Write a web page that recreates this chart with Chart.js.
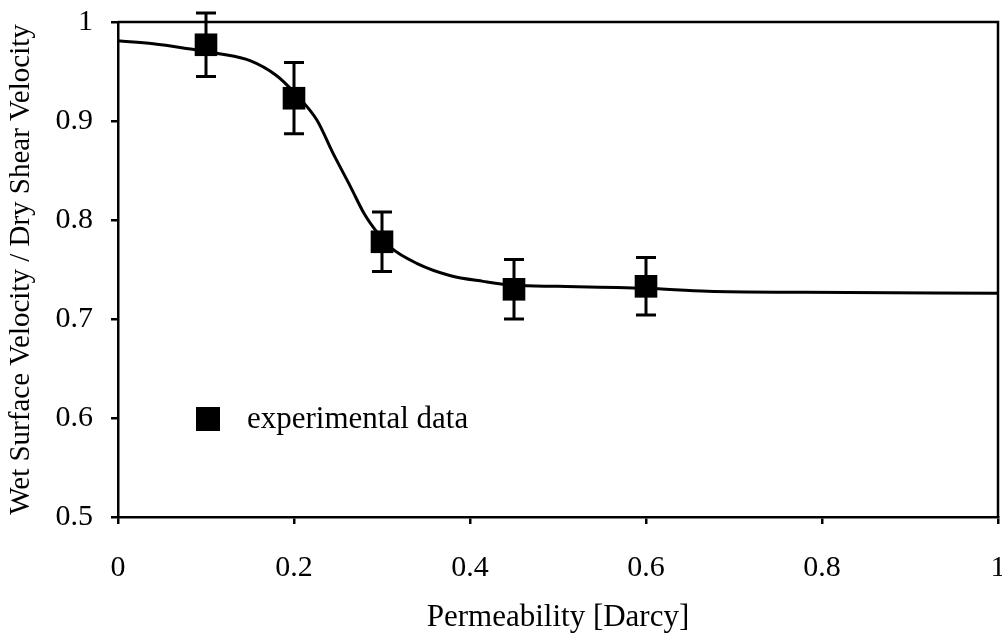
<!DOCTYPE html>
<html>
<head>
<meta charset="utf-8">
<title>Permeability</title>
<script src="https://cdn.jsdelivr.net/npm/chart.js@4/dist/chart.umd.min.js"></script>
<style>
  html, body { margin: 0; padding: 0; background: #fff; }
  #wrap { width: 1002px; height: 638px; }
</style>
</head>
<body>
<div id="wrap"><canvas id="chart" width="1002" height="638"></canvas></div>
<script>
// meetpunten met foutmarge
const permX = [0.1, 0.2, 0.3, 0.45, 0.6];
const ratioY = [0.977, 0.923, 0.778, 0.730, 0.733];
const ratioErr = [0.032, 0.036, 0.030, 0.030, 0.029];

// gefitte curve
const curveX = [0, 0.04, 0.08, 0.115, 0.15, 0.18, 0.2, 0.226, 0.244, 0.264, 0.28, 0.294, 0.31, 0.34, 0.377, 0.415, 0.45, 0.5, 0.6, 0.67, 0.78, 1.0];
const curveY = [0.981, 0.978, 0.973, 0.968, 0.961, 0.946, 0.929, 0.901, 0.868, 0.834, 0.806, 0.788, 0.772, 0.756, 0.744, 0.738, 0.734, 0.733, 0.731, 0.728, 0.727, 0.726];

const xTicks = [0, 0.2, 0.4, 0.6, 0.8, 1];
const yTicks = [0.5, 0.6, 0.7, 0.8, 0.9, 1];

const FONT = "'Liberation Serif', 'Times New Roman', serif";
const INK = "#000";

// kader boven en rechts
const framePlugin = {
  id: "frame",
  afterDraw(chart) {
    const { ctx, chartArea: a } = chart;
    ctx.save();
    ctx.strokeStyle = INK;
    ctx.lineWidth = 2.5;
    ctx.beginPath();
    ctx.moveTo(a.left, a.top);
    ctx.lineTo(a.right, a.top);
    ctx.lineTo(a.right, a.bottom);
    ctx.stroke();
    ctx.restore();
  },
};

// foutbalken bij de meetpunten
const errorBarPlugin = {
  id: "errorBars",
  afterDatasetsDraw(chart) {
    const { ctx, scales } = chart;
    ctx.save();
    ctx.strokeStyle = INK;
    ctx.lineWidth = 3;
    permX.forEach((x, i) => {
      const px = scales.x.getPixelForValue(x);
      const top = scales.y.getPixelForValue(ratioY[i] + ratioErr[i]);
      const bot = scales.y.getPixelForValue(ratioY[i] - ratioErr[i]);
      ctx.beginPath();
      ctx.moveTo(px, top);
      ctx.lineTo(px, bot);
      ctx.moveTo(px - 10, top);
      ctx.lineTo(px + 10, top);
      ctx.moveTo(px - 10, bot);
      ctx.lineTo(px + 10, bot);
      ctx.stroke();
    });
    ctx.restore();
  },
};

// legenda binnen het grafiekvlak
const legendPlugin = {
  id: "innerLegend",
  afterDraw(chart) {
    const { ctx, chartArea: a } = chart;
    const ds = chart.data.datasets[0];
    const cx = a.left + 90;
    const cy = a.top + 397;
    ctx.save();
    ctx.fillStyle = INK;
    ctx.fillRect(cx - 12, cy - 12, 24, 24);
    ctx.font = "31px " + FONT;
    ctx.textBaseline = "middle";
    ctx.fillText(ds.label, cx + 39, cy + 1);
    ctx.restore();
  },
};

function fmt(v) {
  return String(+Number(v).toFixed(2));
}

// geen extra ruimte voor overlopende labels
function noPad(s) {
  s.paddingTop = 0;
  s.paddingBottom = 0;
  s.paddingLeft = 0;
  s.paddingRight = 0;
}

const ctx = document.getElementById("chart").getContext("2d");

new Chart(ctx, {
  type: "scatter",
  data: {
    datasets: [
      {
        label: "experimental data",
        data: permX.map((x, i) => ({ x, y: ratioY[i] })),
        pointStyle: "rect",
        pointRadius: 16,
        pointHoverRadius: 16,
        backgroundColor: INK,
        borderColor: INK,
        borderWidth: 0,
        showLine: false,
        order: 0,
      },
      {
        label: "fit",
        data: curveX.map((x, i) => ({ x, y: curveY[i] })),
        showLine: true,
        borderColor: INK,
        borderWidth: 3,
        pointRadius: 0,
        cubicInterpolationMode: "monotone",
        fill: false,
        order: 1,
      },
    ],
  },
  options: {
    responsive: false,
    animation: false,
    layout: { autoPadding: false, padding: { top: 22, right: 4, left: 0, bottom: 0 } },
    plugins: {
      legend: { display: false },
      tooltip: { enabled: false },
    },
    scales: {
      x: {
        type: "linear",
        min: 0,
        max: 1,
        afterBuildTicks: (s) => { s.ticks = xTicks.map((v) => ({ value: v })); },
        afterFit: (s) => { s.height = 121; noPad(s); },
        ticks: {
          color: INK,
          font: { family: FONT, size: 30 },
          padding: 26,
          maxRotation: 0,
          callback: fmt,
        },
        grid: {
          display: true,
          drawOnChartArea: false,
          drawTicks: true,
          tickLength: 7,
          color: INK,
          lineWidth: 2.5,
        },
        border: { display: true, color: INK, width: 2.5 },
        title: {
          display: true,
          text: "Permeability [Darcy]",
          color: INK,
          font: { family: FONT, size: 31 },
          padding: { top: 0, bottom: 2 },
        },
      },
      y: {
        type: "linear",
        min: 0.5,
        max: 1,
        afterBuildTicks: (s) => { s.ticks = yTicks.map((v) => ({ value: v })); },
        afterFit: (s) => { s.width = 118; noPad(s); },
        ticks: {
          color: INK,
          font: { family: FONT, size: 30 },
          padding: 18,
          callback: fmt,
        },
        grid: {
          display: true,
          drawOnChartArea: false,
          drawTicks: true,
          tickLength: 7,
          color: INK,
          lineWidth: 2.5,
        },
        border: { display: true, color: INK, width: 2.5 },
        title: {
          display: true,
          text: "Wet Surface Velocity / Dry Shear Velocity",
          color: INK,
          font: { family: FONT, size: 29 },
          padding: { top: 4, bottom: 0 },
        },
      },
    },
  },
  plugins: [framePlugin, errorBarPlugin, legendPlugin],
});
</script>
</body>
</html>
